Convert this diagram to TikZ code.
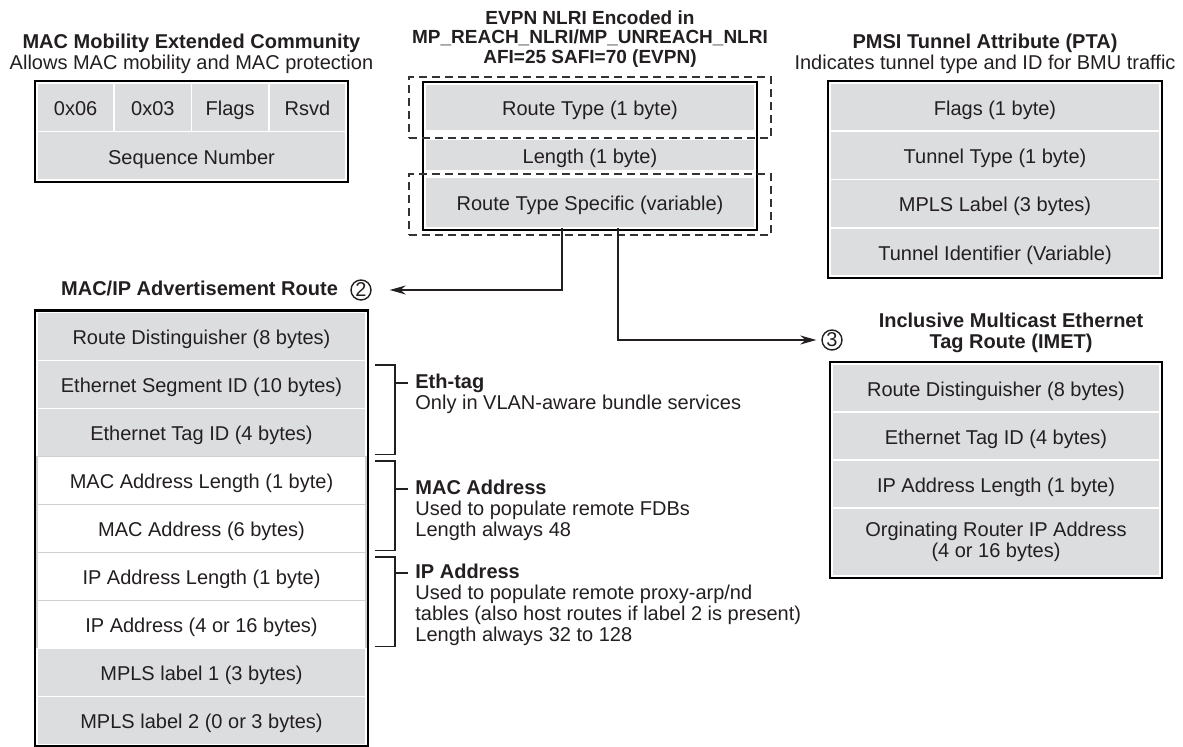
\documentclass[tikz,border=0pt]{standalone}
\usepackage{fontspec}
\setmainfont{Liberation Sans}
\usepackage{xcolor}
\usetikzlibrary{shapes,arrows.meta,positioning,fit}
\definecolor{cellgray}{RGB}{220,221,223}
\definecolor{rulegray}{RGB}{208,208,208}
\definecolor{inkgray}{RGB}{35,31,32}
\tikzset{
    field/.style = {rectangle, minimum width=165pt, minimum height=24pt, inner sep=0pt, outer sep=0pt, text centered, text height=9.3pt, text depth=1pt, text=inkgray, draw=white, line width=0.8pt, fill=cellgray, font=\fontsize{10}{10.5}\selectfont},
    plainfield/.style = {field, fill=white, draw=rulegray},
    quarter/.style = {field, minimum width=38.625pt, minimum height=24.25pt},
    frame/.style = {rectangle, draw=black, line width=1.2pt, inner sep=1pt},
    dashframe/.style = {rectangle, draw=black!80, dashed, dash pattern=on 4pt off 2.5pt, line width=0.6pt},
    title/.style = {align=center, inner sep=0pt, text=inkgray, font=\fontsize{10}{10.5}\selectfont},
    heading/.style = {inner sep=0pt, text depth=2.2pt, text=inkgray, font=\bfseries\fontsize{10}{10.5}\selectfont},
    note/.style = {align=left, inner xsep=0pt, inner ysep=1pt, text=inkgray, font=\fontsize{10}{10.5}\selectfont},
    badge/.style = {circle, draw=inkgray, line width=0.7pt, minimum size=10pt, inner sep=0pt, text=inkgray, font=\fontsize{10}{10}\selectfont},
    link/.style = {draw=inkgray, line width=0.65pt, -{Stealth[length=8pt,width=4.5pt]}},
    brace/.style = {draw=inkgray, line width=0.65pt}
}

\begin{document}
\begin{tikzpicture}[x=0.5pt, y=-0.5pt]
    \useasboundingbox (0,0) rectangle (1183,747);

    % MAC mobility extended community
    \node [quarter] (f06) at (75.6,107.25) {0x06};
    \node [quarter, right=0pt of f06] (f03) {0x03};
    \node [quarter, right=0pt of f03] (fflags) {Flags};
    \node [quarter, right=0pt of fflags] (frsvd) {Rsvd};
    \node [field, minimum width=154.5pt, minimum height=24.25pt, below=0pt of f03.south east] (seq) {Sequence Number};
    \node [frame, fit=(f06)(frsvd)(seq)] (mmbox) {};
    \node [title, above=3pt of mmbox] (mmtitle) {\textbf{MAC Mobility Extended Community}\\Allows MAC mobility and MAC protection};

    % EVPN NLRI
    \node [field, minimum height=23.5pt] (rtype) at (590,107.5) {Route Type (1 byte)};
    \node [field, minimum height=16pt] (len) at (590,155) {Length (1 byte)};
    \node [field, minimum height=25.5pt] (rts) at (590,202.5) {Route Type Specific (variable)};
    \node [frame, fit=(rtype)(rts)] (nlribox) {};
    \node [dashframe, fit=(rtype), inner xsep=8pt, inner ysep=3.5pt] (rtdash) {};
    \node [dashframe, fit=(rts), inner xsep=8pt, inner ysep=2.5pt, yshift=-1pt] (rtsdash) {};
    \node [title, font=\bfseries\fontsize{9.5}{9.6}\selectfont, above=4.5pt of rtdash] (nlrititle) {EVPN NLRI Encoded in\\MP\_REACH\_NLRI/MP\_UNREACH\_NLRI\\AFI=25 SAFI=70 (EVPN)};

    % PMSI tunnel attribute
    \node [field, minimum height=24.125pt] (pflags) at (995,107.125) {Flags (1 byte)};
    \node [field, minimum height=24.125pt, below=0pt of pflags] (ptype) {Tunnel Type (1 byte)};
    \node [field, minimum height=24.125pt, below=0pt of ptype] (plabel) {MPLS Label (3 bytes)};
    \node [field, minimum height=24.125pt, below=0pt of plabel] (pid) {Tunnel Identifier (Variable)};
    \node [frame, fit=(pflags)(pid)] (ptabox) {};
    \node [title, above=3pt of ptabox, xshift=-5pt] (ptatitle) {\textbf{PMSI Tunnel Attribute (PTA)}\\Indicates tunnel type and ID for BMU traffic};

    % MAC/IP advertisement route
    \node [field, minimum width=164.5pt] (rd) at (201.5,336.5) {Route Distinguisher (8 bytes)};
    \node [field, minimum width=164.5pt, below=0pt of rd] (esi) {Ethernet Segment ID (10 bytes)};
    \node [field, minimum width=164.5pt, below=0pt of esi] (etid) {Ethernet Tag ID (4 bytes)};
    \node [plainfield, minimum width=164.5pt, below=0pt of etid] (maclen) {MAC Address Length (1 byte)};
    \node [plainfield, minimum width=164.5pt, below=0pt of maclen] (macaddr) {MAC Address (6 bytes)};
    \node [plainfield, minimum width=164.5pt, below=0pt of macaddr] (iplen) {IP Address Length (1 byte)};
    \node [plainfield, minimum width=164.5pt, below=0pt of iplen] (ipaddr) {IP Address (4 or 16 bytes)};
    \node [field, minimum width=164.5pt, below=0pt of ipaddr] (mpls1) {MPLS label 1 (3 bytes)};
    \node [field, minimum width=164.5pt, below=0pt of mpls1] (mpls2) {MPLS label 2 (0 or 3 bytes)};
    \node [frame, fit=(rd)(mpls2)] (macipbox) {};
    \node [badge] (c2) at (361,290) {2};
    \node [heading, left=6pt of c2] (maciptitle) {MAC/IP Advertisement Route};

    % IMET route
    \node [field, minimum width=164pt] (ird) at (996,388) {Route Distinguisher (8 bytes)};
    \node [field, minimum width=164pt, below=0pt of ird] (ietid) {Ethernet Tag ID (4 bytes)};
    \node [field, minimum width=164pt, below=0pt of ietid] (iiplen) {IP Address Length (1 byte)};
    \node [field, minimum width=164pt, minimum height=34pt, text height=, text depth=, align=center, below=0pt of iiplen] (iorig) {Orginating Router IP Address\\(4 or 16 bytes)};
    \node [frame, fit=(ird)(iorig)] (imetbox) {};
    \node [badge] (c3) at (832,340) {3};
    \node [title, font=\bfseries\fontsize{10}{10.5}\selectfont, above=4pt of imetbox, xshift=7.5pt] (imettitle) {Inclusive Multicast Ethernet\\Tag Route (IMET)};

    % route type arrows
    \draw [link, shorten >=9pt] ([xshift=-14pt]rts.south) |- (c2);
    \draw [link, shorten >=2.5pt] ([xshift=14pt]rts.south) |- (c3);

    % field notes
    \node [heading, anchor=west] (ethhd) at (415,383) {Eth-tag};
    \node [note, anchor=north west] (ethtx) at (ethhd.south west) {Only in VLAN-aware bundle services};
    \node [heading, anchor=west] (machd) at (415,489) {MAC Address};
    \node [note, anchor=north west] (mactx) at (machd.south west) {Used to populate remote FDBs\\Length always 48};
    \node [heading, anchor=west] (iphd) at (415,573) {IP Address};
    \node [note, anchor=north west] (iptx) at (iphd.south west) {Used to populate remote proxy-arp/nd\\tables (also host routes if label 2 is present)\\Length always 32 to 128};

    % brackets
    \draw [brace] ([xshift=4.5pt,yshift=-2.25pt]esi.north east) -- ++(10pt,0) |- ([xshift=4.5pt,yshift=1pt]etid.south east);
    \draw [brace] ([xshift=4.5pt,yshift=-2.25pt]maclen.north east) -- ++(10pt,0) |- ([xshift=4.5pt,yshift=1pt]macaddr.south east);
    \draw [brace] ([xshift=4.5pt,yshift=-2.25pt]iplen.north east) -- ++(10pt,0) |- ([xshift=4.5pt,yshift=1pt]ipaddr.south east);
    \draw [brace] ([xshift=-3.5pt]ethhd.west) -- ++(-7pt,0);
    \draw [brace] ([xshift=-3.5pt]machd.west) -- ++(-7pt,0);
    \draw [brace] ([xshift=-3.5pt]iphd.west) -- ++(-7pt,0);
\end{tikzpicture}
\end{document}
